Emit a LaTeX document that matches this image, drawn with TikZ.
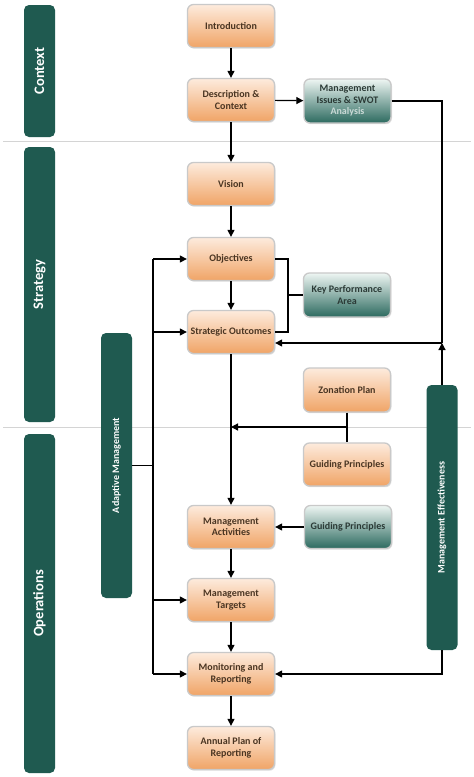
\documentclass[tikz,border=0pt]{standalone}
\usepackage{fontspec}
\setmainfont{Carlito}
\usetikzlibrary{arrows.meta,shadows}
\definecolor{oTop}{HTML}{FDEBDD}
\definecolor{oBot}{HTML}{F0A466}
\definecolor{tTop}{HTML}{EEF6F3}
\definecolor{tBot}{HTML}{2C6A5F}
\definecolor{barC}{HTML}{1F5A50}
\definecolor{boxLine}{HTML}{C9C9C9}
\definecolor{txtO}{HTML}{4A3522}
\definecolor{txtT}{HTML}{2B3A36}
\definecolor{sepC}{HTML}{D4D4D4}
\tikzset{
  basebox/.style={rounded corners=6pt, draw=boxLine, line width=1.3pt,
    minimum width=87pt, minimum height=43pt, inner sep=0pt, align=center,
    font=\fontsize{10}{11.5}\selectfont\bfseries,
    drop shadow={shadow xshift=1pt, shadow yshift=-1.2pt, opacity=0.25}},
  obox/.style={basebox, top color=oTop, bottom color=oBot, text=txtO},
  tbox/.style={basebox, top color=tTop, bottom color=tBot, text=txtT},
  bigbar/.style={rounded corners=5pt, fill=barC, minimum width=31pt, inner sep=0pt,
    text=white, font=\fontsize{14.5}{16}\selectfont\bfseries},
  smallbar/.style={rounded corners=5pt, fill=barC, minimum width=31pt, inner sep=0pt,
    text=white, font=\fontsize{10}{12}\selectfont\bfseries},
  conn/.style={line width=1.2pt, black},
  arr/.style={conn, -{Triangle[length=7pt,width=7pt]}},
  sep/.style={draw=sepC, line width=0.9pt}
}
\begin{document}
\begin{tikzpicture}[x=1pt,y=-1pt]
\useasboundingbox (0,0) rectangle (474,777);
\fill[white] (0,0) rectangle (474,777);
% separators
\coordinate (s1a) at (3,141); \coordinate (s1b) at (471,141);
\coordinate (s2a) at (3,427); \coordinate (s2b) at (471,427);
\draw[sep] (s1a) -- (s1b);
\draw[sep] (s2a) -- (s2b);
% bars
\node[bigbar, minimum height=132pt] (ctx) at (39.5,71) {\rotatebox{90}{Context}};
\node[bigbar, minimum height=275pt] (str) at (39.5,284.5) {\rotatebox{90}{Strategy}};
\node[bigbar, minimum height=339pt] (ops) at (39.5,603.5) {\rotatebox{90}{Operations}};
\node[smallbar, minimum height=265pt] (am) at (116.5,465.5) {\rotatebox{90}{Adaptive Management}};
\node[smallbar, minimum height=265pt] (me) at (442,517.5) {\rotatebox{90}{Management Effectiveness}};
% main column
\node[obox] (intro) at (231,26) {Introduction};
\node[obox] (desc) at (231,100) {Description \&\\Context};
\node[obox] (vis) at (231,184) {Vision};
\node[obox] (obj) at (231,259) {Objectives};
\node[obox] (so) at (231,332) {Strategic Outcomes};
\node[obox] (ma) at (231,527) {Management\\Activities};
\node[obox] (mt) at (231,600) {Management\\Targets};
\node[obox] (mr) at (231,674) {Monitoring and\\Reporting};
\node[obox] (ap) at (231,748) {Annual Plan of\\Reporting};
% right column
\node[tbox, minimum height=44pt] (swot) at (347.5,101) {Management\\Issues \& SWOT\\\textcolor{white!75!tBot}{Analysis}};
\node[tbox, minimum height=44pt] (kpa) at (347,295) {Key Performance\\\textcolor{txtT}{Area}};
\node[obox, minimum height=44pt] (zon) at (347,390) {Zonation Plan};
\node[obox] (gp1) at (347,464.5) {Guiding Principles};
\node[tbox] (gp2) at (348,527) {Guiding Principles};
% main arrows
\draw[arr] (intro) -- (desc);
\draw[arr] (desc) -- (vis);
\draw[arr] (vis) -- (obj);
\draw[arr] (obj) -- (so);
\draw[arr] (so) -- (ma);
\draw[arr] (ma) -- (mt);
\draw[arr] (mt) -- (mr);
\draw[arr] (mr) -- (ap);
% description to swot
\draw[arr] (desc) -- (swot);
% swot / management effectiveness feedback
\coordinate (jr) at (442,343);
\draw[conn] (swot.east) -| (jr);
\draw[arr] (me.north) -- (jr);
\draw[arr] (jr) -- (so.east |- jr);
% key performance area bracket
\coordinate (kb) at (288,295);
\draw[conn] (obj.east) -- (obj.east -| kb) -- (so.east -| kb) -- (so.east);
\draw[conn] (kb) -- (kpa.west);
% zonation plan / guiding principles
\coordinate (zj) at (zon.south |- s2a);
\draw[conn] (zon.south) -- (gp1.north);
\draw[arr] (zj) -- (so.south |- zj);
\draw[arr] (gp2) -- (ma);
% adaptive management
\coordinate (al) at (153,465.5);
\draw[conn] (am.east) -- (al);
\draw[conn] (obj.west -| al) -- (mr.west -| al);
\draw[arr] (obj.west -| al) -- (obj.west);
\draw[arr] (so.west -| al) -- (so.west);
\draw[arr] (mt.west -| al) -- (mt.west);
\draw[arr] (mr.west -| al) -- (mr.west);
% management effectiveness to monitoring
\draw[arr] (me.south) |- (mr.east);
\end{tikzpicture}
\end{document}
